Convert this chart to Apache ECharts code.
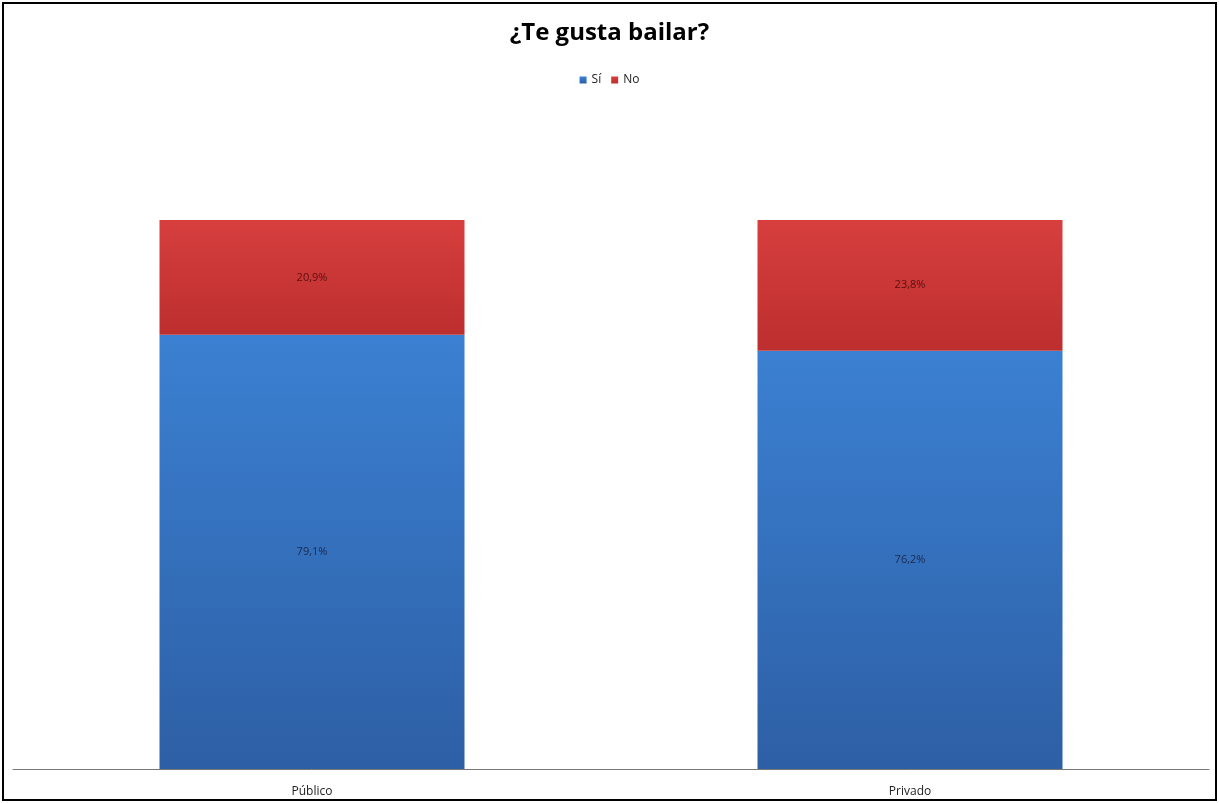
<!DOCTYPE html>
<html><head><meta charset="utf-8">
<script src="https://cdn.jsdelivr.net/npm/echarts@6/dist/echarts.min.js"></script>
<style>
html,body{margin:0;padding:0;background:#fff;}
#frame{position:absolute;left:2px;top:2px;width:1211px;height:795px;border:2px solid #000;}
#c{position:absolute;left:0;top:0;width:1219px;height:803px;}
</style></head>
<body>
<div id="frame"></div>
<div id="c"></div>
<script>
const categories = ['Público', 'Privado'];
const siValues = [79.1, 76.2];
const noValues = [20.9, 23.8];
const seriesNames = ['Sí', 'No'];

const chart = echarts.init(document.getElementById('c'));
const fmt = p => p.value.toFixed(1).replace('.', ',') + '%';
chart.setOption({
  animation: false,
  title: {
    text: '¿Te gusta bailar?', left: 'center', top: 16,
    textStyle: {fontFamily: 'Open Sans', fontWeight: 'bold', fontSize: 24, color: '#000'}
  },
  legend: {
    data: seriesNames, top: 69, left: 'center', icon: 'rect', itemWidth: 7, itemHeight: 7, itemGap: 10,
    textStyle: {fontFamily: 'Open Sans', fontSize: 12, color: '#222'}
  },
  grid: {left: 13, right: 10, top: 220, bottom: 34},
  xAxis: {
    type: 'category', data: categories,
    axisLine: {lineStyle: {color: '#777', width: 1}},
    axisTick: {show: false},
    axisLabel: {fontFamily: 'Open Sans', fontSize: 12, color: '#222', margin: 17}
  },
  yAxis: {type: 'value', min: 0, max: 100, show: false, splitLine: {show: false}},
  series: [
    {
      name: seriesNames[0], type: 'bar', stack: 't', data: siValues, barWidth: 305,
      itemStyle: {color: new echarts.graphic.LinearGradient(0, 0, 0, 1, [
        {offset: 0, color: '#3b80d2'}, {offset: 1, color: '#2d5fa5'}])},
      label: {show: true, position: 'inside', formatter: fmt, fontSize: 11, color: '#1a2a50', fontFamily: 'Open Sans'}
    },
    {
      name: seriesNames[1], type: 'bar', stack: 't', data: noValues, barWidth: 305,
      itemStyle: {color: new echarts.graphic.LinearGradient(0, 0, 0, 1, [
        {offset: 0, color: '#d63f3e'}, {offset: 1, color: '#bd2e2e'}])},
      label: {show: true, position: 'inside', formatter: fmt, fontSize: 11, color: '#5a1010', fontFamily: 'Open Sans'}
    }
  ],
  color: ['#3a6fc0', '#c8304a']
});
</script>
</body></html>
